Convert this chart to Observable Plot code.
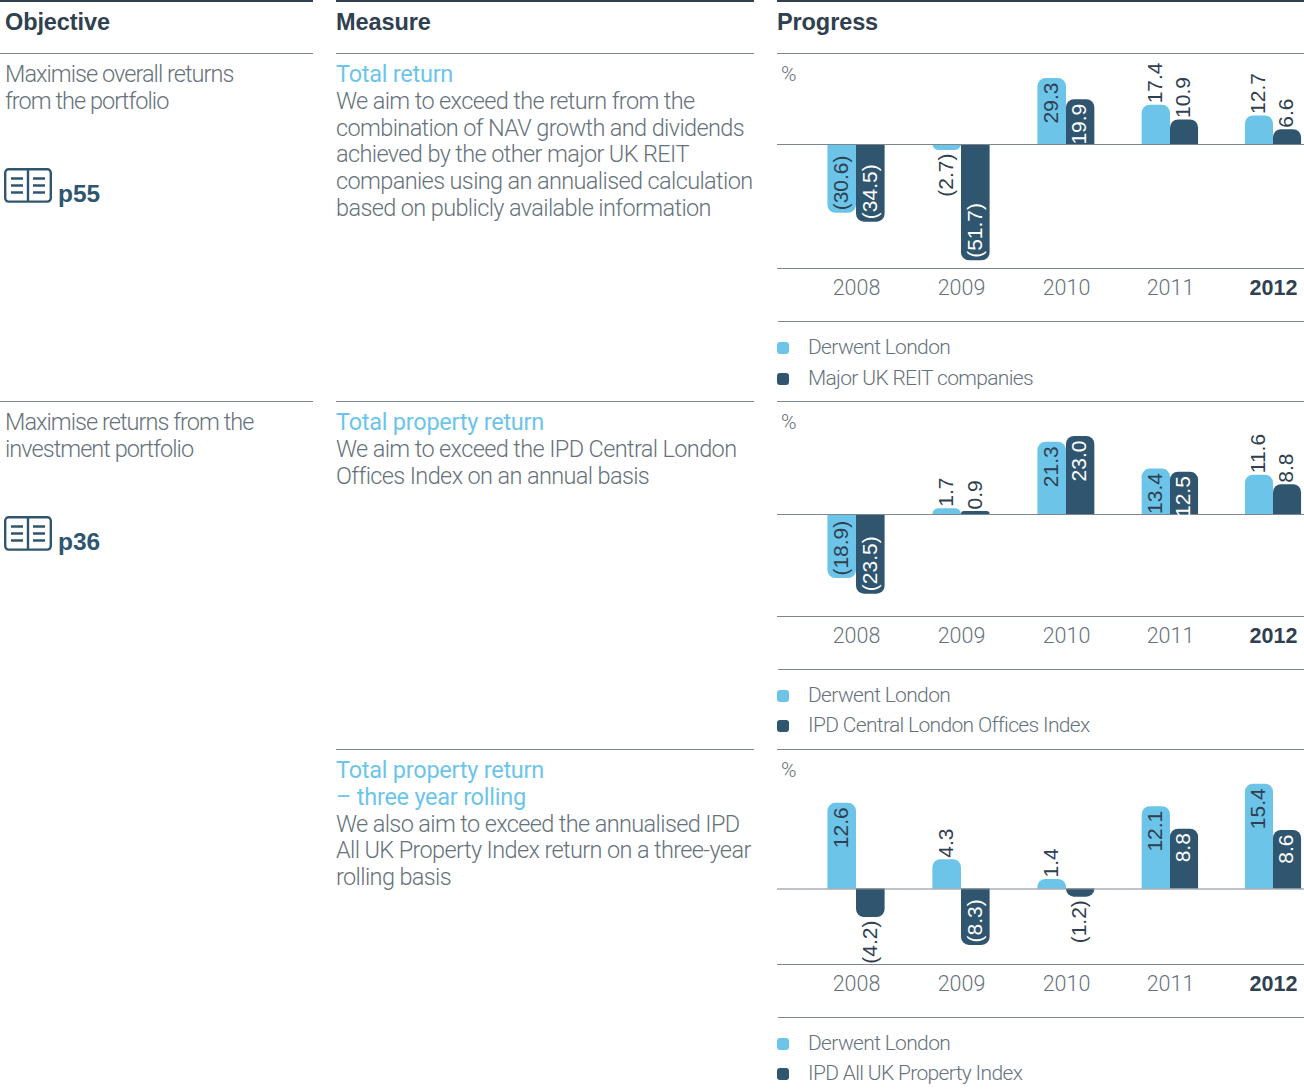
<!DOCTYPE html>
<html>
<head>
<meta charset="utf-8">
<script src="https://cdn.jsdelivr.net/npm/d3@7"></script>
<script src="https://cdn.jsdelivr.net/npm/@observablehq/plot@0.6"></script>
<style>
  html, body { margin: 0; background: #fff; }
  #page { position: relative; width: 1304px; height: 1091px; overflow: hidden; font-family: "Liberation Sans", sans-serif; }
  .t { position: absolute; white-space: nowrap; }
  .body { font-family: Roboto, sans-serif; font-weight: 300; font-size: 23.5px; line-height: 26.8px; color: #66727b; letter-spacing: -0.95px; }
  .wide { letter-spacing: -0.62px; }
  .teal { color: #6cc5e9; font-weight: 400; letter-spacing: -0.25px; }
  .head { font-weight: 700; font-size: 23.5px; line-height: 27px; color: #2f4050; letter-spacing: -0.1px; }
  .ref { font-weight: 700; font-size: 24.5px; line-height: 27px; color: #30566f; }
  .rule { position: absolute; }
  .pct, .leg { font-family: Roboto, sans-serif; font-weight: 300; font-size: 21px; line-height: 24px; color: #66727b; letter-spacing: -0.66px; }
  .swatch { position: absolute; width: 12px; height: 12px; border-radius: 3px; }
</style>
</head>
<body>
<div id="page"></div>
<script>
// Reporting years shared by the three progress panels
const years = [2008, 2009, 2010, 2011, 2012];

// Total return, %
const totalReturnDerwent = [-30.6, -2.7, 29.3, 17.4, 12.7];
const totalReturnReits = [-34.5, -51.7, 19.9, 10.9, 6.6];

// Total property return, %
const propertyReturnDerwent = [-18.9, 1.7, 21.3, 13.4, 11.6];
const propertyReturnIpdCentral = [-23.5, 0.9, 23.0, 12.5, 8.8];

// Total property return, three year rolling, %
const rollingDerwent = [12.6, 4.3, 1.4, 12.1, 15.4];
const rollingIpdAllUk = [-4.2, -8.3, -1.2, 8.8, 8.6];

const lightBlue = "#6cc5e9";
const navy = "#30566f";
const ink = "#2f4050";
const muted = "#66727b";
const ruleGrey = "#7d878e";

const page = document.getElementById("page");

function addText(cls, left, top, html) {
  const el = document.createElement("div");
  el.className = "t " + cls;
  el.style.left = left + "px";
  el.style.top = top + "px";
  el.innerHTML = html;
  page.appendChild(el);
}

function addRule(left, top, width, height, color) {
  const el = document.createElement("div");
  el.className = "rule";
  Object.assign(el.style, {left: left + "px", top: top + "px", width: width + "px", height: height + "px", background: color});
  page.appendChild(el);
}

// Open-book page reference icon with a bold page number beside it
function addPageRef(top, label) {
  const wrap = document.createElement("div");
  wrap.style.cssText = `position:absolute;left:4px;top:${top}px`;
  wrap.innerHTML = `<svg width="48" height="35" viewBox="0 0 48 35" fill="none" stroke="${navy}" stroke-width="2.4">
    <rect x="1.2" y="1.2" width="45.6" height="32.4" rx="3.5"/>
    <path d="M24 1v33M7 10.5h12M7 17.5h12M7 24.5h12M29 10.5h12M29 17.5h12M29 24.5h12"/></svg>`;
  page.appendChild(wrap);
  addText("ref", 58, top + 12, label);
}

// One panel: bars grown from zero and rounded at the free end, with rotated value labels placed inside when they fit
function addPanel({top, baseline, axisAt, pxPerUnit, legendTop, legendGap, derwent, peer, peerName}) {
  const plotHeight = axisAt - top;
  const svgHeight = plotHeight + 42;
  const barWidth = 0.2725;
  const rows = years.flatMap((year, i) => [
    {year, series: "Derwent London", value: derwent[i], x1: year - barWidth, x2: year, fill: lightBlue},
    {year, series: peerName, value: peer[i], x1: year, x2: year + barWidth, fill: navy}
  ]);
  const fits = d => Math.abs(d.value) * pxPerUnit >= 42;
  const centre = d => (d.x1 + d.x2) / 2;
  const fmt = v => v < 0 ? `(${(-v).toFixed(1)})` : v.toFixed(1);
  const labelOpts = (filter, textAnchor, dy, fill) => ({
    x: centre, y: "value", text: d => fmt(d.value), rotate: -90, textAnchor, dx: -1, dy, fill,
    fontSize: 21, filter
  });
  const up = d => d.value > 0, down = d => d.value < 0;
  const plot = Plot.plot({
    width: 527, height: svgHeight,
    marginTop: 0, marginLeft: 0, marginRight: 0, marginBottom: svgHeight - plotHeight,
    style: {position: "absolute", left: "777px", top: top + "px", overflow: "visible", fontFamily: "'Liberation Sans', sans-serif", background: "none"},
    color: {type: "identity"},
    x: {type: "linear", domain: years, range: [79, 184, 289, 393, 496], axis: null},
    y: {domain: [-(axisAt - baseline) / pxPerUnit, (baseline - top) / pxPerUnit], range: [plotHeight, 0], axis: null},
    marks: [
      Plot.rect(rows, {x1: "x1", x2: "x2", y1: 0, y2: "value", fill: "fill", rx1y1: 0, rx2y1: 0, rx1y2: 8, rx2y2: 8}),
      Plot.ruleY([0], {stroke: ruleGrey, strokeWidth: 1}),
      Plot.frame({anchor: "bottom", stroke: ruleGrey}),
      Plot.text(rows, labelOpts(d => up(d) && fits(d), "end", 4, d => d.fill === navy ? "#fff" : ink)),
      Plot.text(rows, labelOpts(d => up(d) && !fits(d), "start", -2, ink)),
      Plot.text(rows, labelOpts(d => down(d) && fits(d), "start", -3, d => d.fill === navy ? "#fff" : ink)),
      Plot.text(rows, labelOpts(d => down(d) && !fits(d), "end", 3, ink)),
      Plot.axisX({ticks: years.slice(0, -1), tickFormat: d => String(d), tickSize: 0, tickPadding: 11, label: null, fontSize: 21.5, fontWeight: 300, fontFamily: "Roboto, sans-serif", fill: muted}),
      Plot.axisX({ticks: years.slice(-1), tickFormat: d => String(d), tickSize: 0, tickPadding: 11, label: null, fontSize: 21.5, fontWeight: 700, fill: ink})
    ]
  });
  page.appendChild(plot);

  addText("pct", 781, top + 8, "%");
  addRule(778, legendTop - 20, 526, 1, ruleGrey);
  [["Derwent London", lightBlue, 0], [peerName, navy, legendGap]].forEach(([name, color, dy]) => {
    const sw = document.createElement("div");
    sw.className = "swatch";
    sw.style.cssText = `left:777px;top:${legendTop + dy + 1}px;background:${color}`;
    page.appendChild(sw);
    addText("leg", 808, legendTop + dy - 6, name);
  });
}

// Column headings and the rules that divide the table rows
addRule(0, 0, 313, 2, ink);
addRule(336, 0, 418, 2, ink);
addRule(777, 0, 527, 2, ink);
addText("head", 5, 9, "Objective");
addText("head", 336, 9, "Measure");
addText("head", 777, 9, "Progress");
addRule(0, 53, 313, 1, ruleGrey);
addRule(336, 53, 418, 1, ruleGrey);
addRule(777, 53, 527, 1, ruleGrey);
addRule(0, 401, 313, 1, ruleGrey);
addRule(336, 401, 418, 1, ruleGrey);
addRule(777, 401, 527, 1, ruleGrey);
addRule(336, 749, 418, 1, ruleGrey);
addRule(777, 749, 527, 1, ruleGrey);

addText("body", 5, 61, "Maximise overall returns<br>from the portfolio");
addPageRef(168, "p55");
addText("body wide", 336, 61, `<span class="teal">Total return</span><br>We aim to exceed the return from the<br>combination of NAV growth and dividends<br>achieved by the other major UK REIT<br>companies using an annualised calculation<br>based on publicly available information`);

addText("body", 5, 409, "Maximise returns from the<br>investment portfolio");
addPageRef(516, "p36");
addText("body wide", 336, 409, `<span class="teal">Total property return</span><br>We aim to exceed the IPD Central London<br>Offices Index on an annual basis`);

addText("body wide", 336, 757, `<span class="teal">Total property return<br>– three year rolling</span><br>We also aim to exceed the annualised IPD<br>All UK Property Index return on a three-year<br>rolling basis`);

addPanel({top: 54, baseline: 144, axisAt: 268, pxPerUnit: 2.25, legendTop: 341, legendGap: 31, derwent: totalReturnDerwent, peer: totalReturnReits, peerName: "Major UK REIT companies"});
addPanel({top: 402, baseline: 514, axisAt: 616, pxPerUnit: 3.39, legendTop: 689, legendGap: 30, derwent: propertyReturnDerwent, peer: propertyReturnIpdCentral, peerName: "IPD Central London Offices Index"});
addPanel({top: 750, baseline: 888.5, axisAt: 964, pxPerUnit: 6.8, legendTop: 1037, legendGap: 30, derwent: rollingDerwent, peer: rollingIpdAllUk, peerName: "IPD All UK Property Index"});
</script>
</body>
</html>
